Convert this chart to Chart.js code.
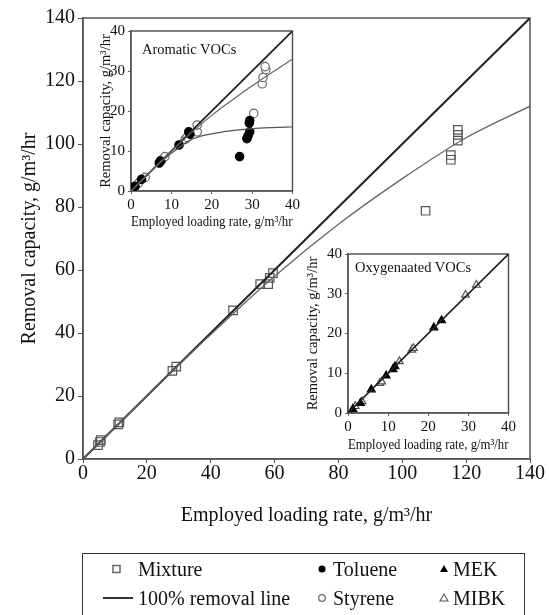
<!DOCTYPE html>
<html>
<head>
<meta charset="utf-8">
<script src="https://cdn.jsdelivr.net/npm/chart.js@4.4.0/dist/chart.umd.min.js"></script>
<style>
  body { margin: 0; background: #fff; width: 549px; height: 615px; overflow: hidden; position: relative;
         font-family: 'Liberation Serif', 'DejaVu Serif', serif; }
  canvas { position: absolute; }
  .lbl { position: absolute; font-size: 14.5px; line-height: 18px; color: #111; white-space: nowrap; }
  #legend { position: absolute; left: 82px; top: 553px; width: 443px; height: 80px; border: 1px solid #333; box-sizing: border-box; }
  .li { position: absolute; font-size: 20px; line-height: 24px; color: #111; white-space: nowrap; }
  .mk { position: absolute; }
</style>
</head>
<body>
<canvas id="mainChart" width="549" height="540" style="left:0;top:0"></canvas>
<canvas id="aroChart" width="214" height="213" style="left:88px;top:19px"></canvas>
<canvas id="oxyChart" width="218" height="213" style="left:300px;top:242px"></canvas>
<div class="lbl" style="left:142px;top:40px">Aromatic VOCs</div>
<div class="lbl" style="left:355px;top:258px">Oxygenaated VOCs</div>

<div id="legend"></div>
<svg class="mk" width="549" height="615" style="left:0;top:0;pointer-events:none">
  <rect x="113" y="565.5" width="7" height="7" fill="#fff" stroke="#666" stroke-width="1.5"/>
  <line x1="103" y1="598" x2="133" y2="598" stroke="#333" stroke-width="2"/>
  <circle cx="322" cy="569" r="3.5" fill="#000"/>
  <circle cx="322" cy="598" r="3.3" fill="#fff" stroke="#666" stroke-width="1.2"/>
  <polygon points="444,565 448,572 440,572" fill="#000"/>
  <polygon points="444,594 448,601 440,601" fill="#fff" stroke="#555" stroke-width="1.1"/>
</svg>
<div class="li" style="left:138px;top:557px">Mixture</div>
<div class="li" style="left:138px;top:586px">100% removal line</div>
<div class="li" style="left:333px;top:557px">Toluene</div>
<div class="li" style="left:333px;top:586px">Styrene</div>
<div class="li" style="left:453px;top:557px">MEK</div>
<div class="li" style="left:453px;top:586px">MIBK</div>

<script>
Chart.defaults.font.family = "'Liberation Serif', 'DejaVu Serif', serif";
Chart.defaults.color = '#111';

// ---- main chart data ----
const mainTicks = [0, 20, 40, 60, 80, 100, 120, 140];
const mixtureX = [4.7, 5.3, 5.6, 11.0, 11.4, 28.0, 29.2, 47.0, 55.5, 58.0, 58.5, 59.5, 107.3, 115.2, 115.2, 117.4, 117.4, 117.4];
const mixtureY = [4.4, 5.4, 6.0, 11.0, 11.6, 28.0, 29.3, 47.2, 55.5, 55.5, 57.5, 59.0, 78.8, 95.0, 96.5, 101.1, 102.9, 104.5];
const lineMainX = [0, 140];
const lineMainY = [0, 140];
const fitMainX = [0, 20, 40, 60, 80, 100, 120, 140];
const fitMainY = [0, 20, 39.5, 58, 74.5, 89, 102, 112];

// ---- aromatic inset ----
const insetTicks = [0, 10, 20, 30, 40];
const tolueneX = [1.0, 2.6, 7.0, 7.3, 11.9, 14.3, 14.6, 26.9, 28.7, 29.0, 29.4, 29.3, 29.4];
const tolueneY = [1.2, 2.9, 7.0, 7.5, 11.5, 14.8, 14.2, 8.6, 13.1, 13.8, 14.8, 17.0, 17.6];
const styreneX = [1.0, 1.8, 3.5, 7.6, 8.4, 13.4, 13.9, 16.4, 16.4, 30.4, 32.5, 32.7, 33.4, 33.2];
const styreneY = [1.1, 1.9, 3.4, 7.75, 8.6, 12.9, 13.4, 14.8, 16.5, 19.4, 26.8, 28.4, 30.4, 31.1];
const fitInsetX = [0, 5, 10, 15, 20, 25, 30, 35, 40];
const styreneFit = [0, 5, 9.9, 14.6, 18.9, 22.7, 26.3, 29.7, 33];
const tolueneFit = [0, 4.95, 9.4, 12.9, 14.3, 15.1, 15.6, 15.85, 16.0];
const lineInsetX = [0, 40];
const lineInsetY = [0, 40];

// ---- oxygenated inset ----
const mekX = [1.2, 3.1, 5.8, 9.5, 11.2, 11.7, 21.4, 23.3];
const mekY = [1.0, 2.5, 5.9, 9.4, 11.0, 11.7, 21.5, 23.3];
const mibkX = [1.8, 3.5, 7.9, 8.4, 12.8, 15.9, 16.3, 29.3, 32.0];
const mibkY = [1.7, 2.9, 7.5, 7.9, 13.0, 15.9, 16.3, 29.7, 32.2];

const xTitle = 'Employed loading rate, g/m\u00B3/hr';
const yTitle = 'Removal capacity, g/m\u00B3/hr';

function pts(xs, ys) {
  return xs.map((x, i) => ({ x: x, y: ys[i] }));
}

// draws the frame around the plot area
const boxPlugin = {
  id: 'box',
  beforeDatasetsDraw(chart, args, opts) {
    const a = chart.chartArea;
    const c = chart.ctx;
    c.save();
    c.strokeStyle = opts.color || '#555';
    c.lineWidth = opts.width || 1.5;
    c.strokeRect(a.left, a.top, a.right - a.left, a.bottom - a.top);
    c.restore();
  }
};

function axis(ticksArr, max, opts) {
  return {
    type: 'linear', min: 0, max: max,
    afterBuildTicks: s => { s.ticks = ticksArr.map(v => ({ value: v })); },
    grid: { display: true, drawOnChartArea: false, drawTicks: true, tickLength: opts.tl, color: opts.color },
    border: { display: true, color: opts.color, width: 1.5 },
    ticks: { font: { size: opts.fs }, color: '#111', padding: opts.pad, maxRotation: 0 },
    title: { display: true, text: opts.title, font: { size: opts.tfs }, color: '#111', padding: opts.tpad },
    afterFit: opts.fit
  };
}

function line(xs, ys, color, w) {
  return { data: pts(xs, ys), showLine: true, pointRadius: 0, borderColor: color, borderWidth: w,
           fill: false, cubicInterpolationMode: 'monotone' };
}
function marks(xs, ys, style, r, fillC, strokeC) {
  return { data: pts(xs, ys), showLine: false, pointStyle: style, pointRadius: r,
           backgroundColor: fillC, borderColor: strokeC, borderWidth: 1.2 };
}

const common = {
  responsive: false, animation: false, devicePixelRatio: 1,
  plugins: { legend: { display: false }, tooltip: { enabled: false }, box: { color: '#555' } }
};

new Chart(document.getElementById('mainChart'), {
  type: 'scatter',
  data: { datasets: [
    line(fitMainX, fitMainY, '#666', 1.3),
    line(lineMainX, lineMainY, '#222', 2),
    marks(mixtureX, mixtureY, 'rect', 6, 'rgba(255,255,255,0)', '#555')
  ]},
  options: Object.assign({}, common, {
    layout: { padding: { top: 18, right: 19, left: 0, bottom: 0 } },
    scales: {
      x: axis(mainTicks, 140, { tl: 4, color: '#555', fs: 20, pad: -1, title: xTitle, tfs: 20,
        tpad: { top: 0, bottom: 12 }, fit: s => { s.height = 81; } }),
      y: axis(mainTicks, 140, { tl: 5, color: '#555', fs: 20, pad: 3, title: yTitle, tfs: 20,
        tpad: { top: 18, bottom: 0 }, fit: s => { s.width = 83; } })
    }
  }),
  plugins: [boxPlugin]
});

new Chart(document.getElementById('aroChart'), {
  type: 'scatter',
  data: { datasets: [
    line(fitInsetX, styreneFit, '#666', 1.2),
    line(fitInsetX, tolueneFit, '#555', 1.2),
    line(lineInsetX, lineInsetY, '#222', 1.8),
    marks(tolueneX, tolueneY, 'circle', 4.2, '#000', '#000'),
    marks(styreneX, styreneY, 'circle', 4.2, '#fff', '#666')
  ]},
  options: Object.assign({}, common, {
    layout: { padding: { top: 12, right: 9, left: 0, bottom: 0 } },
    scales: {
      x: axis(insetTicks, 40, { tl: 3, color: '#666', fs: 15, pad: 2, title: xTitle, tfs: 14.5,
        tpad: { top: 0, bottom: 1.3 }, fit: s => { s.height = 41; } }),
      y: axis(insetTicks, 40, { tl: 3, color: '#666', fs: 15, pad: 3, title: yTitle, tfs: 14.5,
        tpad: { top: 9.3, bottom: 0 }, fit: s => { s.width = 43; } })
    }
  }),
  plugins: [boxPlugin]
});

new Chart(document.getElementById('oxyChart'), {
  type: 'scatter',
  data: { datasets: [
    line(lineInsetX, lineInsetY, '#222', 1.6),
    marks(mekX, mekY, 'triangle', 4.5, '#000', '#000'),
    marks(mibkX, mibkY, 'triangle', 4.5, '#fff', '#555')
  ]},
  options: Object.assign({}, common, {
    layout: { padding: { top: 12, right: 9, left: 0, bottom: 0 } },
    scales: {
      x: axis(insetTicks, 40, { tl: 3, color: '#666', fs: 15, pad: 2, title: xTitle, tfs: 14.5,
        tpad: { top: 0, bottom: 1.3 }, fit: s => { s.height = 42; } }),
      y: axis(insetTicks, 40, { tl: 3, color: '#666', fs: 15, pad: 3, title: yTitle, tfs: 14.5,
        tpad: { top: 4.3, bottom: 0 }, fit: s => { s.width = 48; } })
    }
  }),
  plugins: [boxPlugin]
});
</script>
</body>
</html>
